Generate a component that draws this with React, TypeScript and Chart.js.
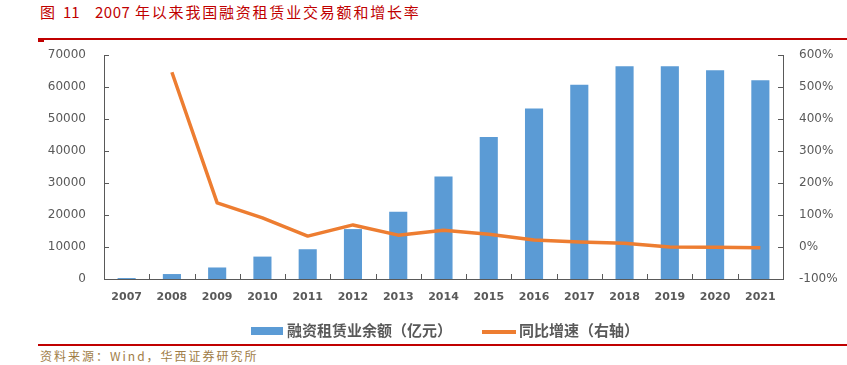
import React, { useEffect, useRef } from "react";
import { Chart, registerables } from "chart.js";

Chart.register(...registerables);

const categories = ["2007", "2008", "2009", "2010", "2011", "2012", "2013", "2014", "2015", "2016", "2017", "2018", "2019", "2020", "2021"];
const balance = [300, 1550, 3600, 7000, 9300, 15600, 21000, 32000, 44400, 53300, 60700, 66500, 66500, 65200, 62100];
const growth = [null, 546, 138, 91, 34, 69, 37, 52, 40, 22, 16, 12, 0, -1, -2];
const leftTicks = [0, 10000, 20000, 30000, 40000, 50000, 60000, 70000];
const rightTicks = [-100, 0, 100, 200, 300, 400, 500, 600];

const BAR = "#5B9BD5";
const LINE = "#ED7D31";
const AXIS = "#595959";
const TXT = "#595959";
const RED = "#C00000";

const innerTicks = {
  id: "innerTicks",
  afterDraw(chart: any) {
    const ctx = chart.ctx;
    const { left, right, bottom } = chart.chartArea;
    const yL = chart.scales.y;
    const yR = chart.scales.y1;
    const x = chart.scales.x;
    ctx.save();
    ctx.strokeStyle = AXIS;
    ctx.lineWidth = 1;
    ctx.beginPath();
    yL.ticks.forEach((_: any, i: number) => {
      const py = Math.round(yL.getPixelForTick(i)) + 0.5;
      ctx.moveTo(left, py);
      ctx.lineTo(left + 5, py);
    });
    yR.ticks.forEach((_: any, i: number) => {
      const py = Math.round(yR.getPixelForTick(i)) + 0.5;
      ctx.moveTo(right - 5, py);
      ctx.lineTo(right, py);
    });
    const n = x.getLabels().length;
    const w = (x.right - x.left) / n;
    for (let i = 1; i < n; i++) {
      const px = Math.round(x.left + i * w) + 0.5;
      ctx.moveTo(px, bottom);
      ctx.lineTo(px, bottom - 5);
    }
    ctx.stroke();
    ctx.restore();
  },
};

function ChartView() {
  const ref = useRef<HTMLCanvasElement>(null);
  useEffect(() => {
    if (!ref.current) return;
    const chart = new Chart(ref.current, {
      type: "bar",
      data: {
        labels: categories,
        datasets: [
          {
            type: "line",
            label: "同比增速（右轴）",
            data: growth,
            yAxisID: "y1",
            borderColor: LINE,
            backgroundColor: LINE,
            borderWidth: 3.5,
            pointRadius: 0,
            tension: 0,
            borderJoinStyle: "round",
            order: 0,
          } as any,
          {
            type: "bar",
            label: "融资租赁业余额（亿元）",
            data: balance,
            yAxisID: "y",
            backgroundColor: BAR,
            borderWidth: 0,
            barPercentage: 0.4,
            categoryPercentage: 1,
            order: 1,
          } as any,
        ],
      },
      options: {
        responsive: false,
        animation: false,
        layout: { padding: { top: 55, left: 0, right: 0, bottom: 12 } },
        plugins: { legend: { display: false }, tooltip: { enabled: false }, title: { display: false } },
        scales: {
          x: {
            offset: true,
            grid: { display: false, drawTicks: false },
            border: { display: true, color: AXIS, width: 1 },
            ticks: {
              color: TXT,
              padding: 12,
              maxRotation: 0,
              autoSkip: false,
              font: { family: "'DejaVu Sans'", size: 11, weight: "bold" },
            },
            afterFit: (s: any) => {
              s.height = 30;
            },
          },
          y: {
            position: "left",
            min: 0,
            max: 70000,
            grid: { display: false, drawTicks: false },
            border: { display: true, color: AXIS, width: 1 },
            afterBuildTicks: (s: any) => {
              s.ticks = leftTicks.map((v) => ({ value: v }));
            },
            ticks: {
              color: TXT,
              padding: 18,
              font: { family: "'DejaVu Sans'", size: 12 },
              callback: (v: any) => String(v),
            },
            afterFit: (s: any) => {
              s.width = 104;
            },
          },
          y1: {
            position: "right",
            min: -100,
            max: 600,
            grid: { display: false, drawTicks: false },
            border: { display: true, color: AXIS, width: 1 },
            afterBuildTicks: (s: any) => {
              s.ticks = rightTicks.map((v) => ({ value: v }));
            },
            ticks: {
              color: TXT,
              padding: 16,
              font: { family: "'DejaVu Sans'", size: 12 },
              callback: (v: any) => v + "%",
            },
            afterFit: (s: any) => {
              s.width = 64;
            },
          },
        },
      },
      plugins: [innerTicks],
    });
    return () => chart.destroy();
  }, []);
  return <canvas ref={ref} width={847} height={321} style={{ position: "absolute", left: 0, top: 0 }} />;
}

const abs = (o: any): React.CSSProperties => ({ position: "absolute", whiteSpace: "pre", ...o });

export default function App() {
  const titleFont = { fontFamily: "'Noto Sans CJK SC'", fontSize: 15, lineHeight: "15px", color: RED, top: 4 };
  const legFont = { fontFamily: "'Noto Sans CJK SC'", fontSize: 15, lineHeight: "16px", color: TXT, fontWeight: "bold" };
  return (
    <div style={{ position: "absolute", left: 0, top: 0, width: 847, height: 365, background: "#fff", overflow: "hidden" }}>
      <span style={abs({ ...titleFont, left: 40 })}>图</span>
      <span style={abs({ ...titleFont, left: 63 })}>11</span>
      <span style={abs({ ...titleFont, left: 95, letterSpacing: 0.5 })}>2007</span>
      <span style={abs({ ...titleFont, left: 135, letterSpacing: 1.8 })}>年以来我国融资租赁业交易额和增长率</span>
      <div style={abs({ left: 38, top: 38, width: 809, height: 2, background: RED })} />
      <div style={abs({ left: 38, top: 38, width: 6, height: 4, background: RED })} />
      <ChartView />
      <div style={abs({ left: 251, top: 327, width: 32, height: 8, background: BAR })} />
      <span style={abs({ ...legFont, left: 287, top: 322 })}>融资租赁业余额（亿元）</span>
      <div style={abs({ left: 482, top: 330, width: 34, height: 3.5, background: LINE })} />
      <span style={abs({ ...legFont, left: 519, top: 322 })}>同比增速（右轴）</span>
      <div style={abs({ left: 38, top: 344, width: 809, height: 2, background: RED })} />
      <span style={abs({ left: 40, top: 350, fontFamily: "'Noto Sans CJK SC'", fontSize: 12, lineHeight: "12px", letterSpacing: 2, color: "#A07D47" })}>资料来源：Wind，华西证券研究所</span>
    </div>
  );
}
